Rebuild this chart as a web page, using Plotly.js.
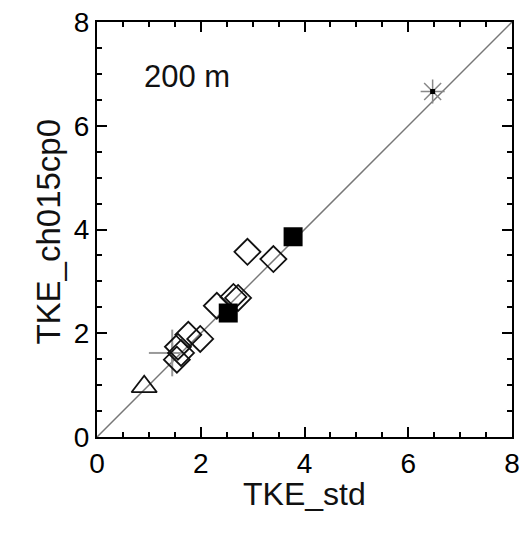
<!DOCTYPE html>
<html><head><meta charset="utf-8">
<script src="https://cdn.plot.ly/plotly-3.0.1.min.js"></script>
<style>body{margin:0;background:#fff}</style>
</head><body><div id="chart" style="width:525px;height:533px"></div>
<script>
const diamondX = [2.9, 3.4, 2.63, 2.72, 2.31, 1.76, 1.99, 1.56, 1.54, 1.62];
const diamondY = [3.57, 3.43, 2.70, 2.68, 2.53, 1.97, 1.89, 1.74, 1.49, 1.62];
const squareX = [3.78, 2.53];
const squareY = [3.86, 2.39];
const triX = [0.91];
const triY = [0.97];
const crossX = [1.45];
const crossY = [1.62];
const crossErrMinus = [0.45];
const crossErrPlus = [0.1];
const crossErrY = [0.45];
const starX = [6.47];
const starY = [6.66];
const lineX = [0, 8];
const lineY = [0, 8];

const FONT = 'Liberation Sans';

const traces = [
  {x: lineX, y: lineY, mode: 'lines', line: {color: '#777', width: 1.5}},
  {x: crossX, y: crossY, mode: 'markers', marker: {symbol: 'cross-thin-open', size: 14, color: '#999', line: {color: '#999', width: 2}},
   error_x: {type: 'data', symmetric: false, array: crossErrPlus, arrayminus: crossErrMinus, color: '#999', thickness: 2, width: 0},
   error_y: {type: 'data', array: crossErrY, color: '#999', thickness: 2, width: 0}},
  {x: diamondX, y: diamondY, mode: 'markers', marker: {symbol: 'diamond-open', size: 20, color: '#111', line: {color: '#111', width: 1.8}}},
  {x: squareX, y: squareY, mode: 'markers', marker: {symbol: 'square', size: 19, color: '#000'}},
  {x: triX, y: triY, mode: 'markers', marker: {symbol: 'triangle-up-open', size: 22, color: '#111', line: {color: '#111', width: 1.8}}},
  {x: starX, y: starY, mode: 'markers', marker: {symbol: 'asterisk-open', size: 20, color: '#888', line: {color: '#888', width: 1.5}}},
  {x: starX, y: starY, mode: 'markers', marker: {symbol: 'square', size: 5, color: '#000'}}
];

function axis() {
  return {
    range: [0, 8], dtick: 2, ticks: 'inside', ticklen: 10, tickwidth: 2, tickcolor: '#000',
    showline: true, mirror: 'allticks', linecolor: '#000', linewidth: 2,
    showgrid: false, zeroline: false,
    tickfont: {family: FONT, size: 28, color: '#000'},
    minor: {dtick: 0.5, ticks: 'inside', ticklen: 5, tickwidth: 2, tickcolor: '#000'}
  };
}

const layout = {
  width: 525, height: 533, showlegend: false,
  margin: {l: 97, r: 13, t: 22, b: 96},
  xaxis: axis(),
  yaxis: axis(),
  annotations: [
    {x: 1.73, y: 6.95, xref: 'x', yref: 'y', text: '200 m', showarrow: false,
     font: {family: FONT, size: 31, color: '#111'}},
    {x: 0.501, y: -0.185, xref: 'paper', yref: 'paper', text: 'TKE_std', showarrow: false,
     font: {family: FONT, size: 32, color: '#111'}},
    {x: -0.166, y: 0.494, xref: 'paper', yref: 'paper', text: 'TKE_ch015cp0', showarrow: false, textangle: -90,
     font: {family: FONT, size: 33, color: '#111'}}
  ]
};

Plotly.newPlot('chart', traces, layout, {staticPlot: true});
</script></body></html>
